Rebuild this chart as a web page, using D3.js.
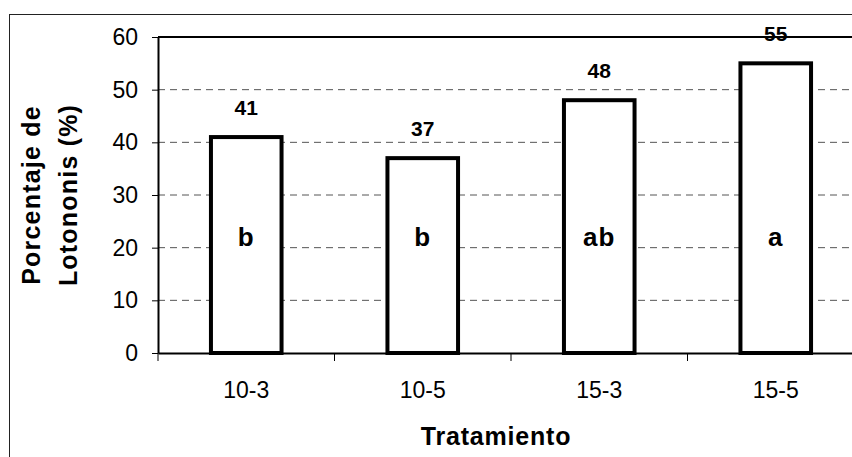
<!DOCTYPE html>
<html>
<head>
<meta charset="utf-8">
<script src="https://cdn.jsdelivr.net/npm/d3@7"></script>
<style>
  body { margin: 0; background: #fff; }
  svg { display: block; font-family: 'Liberation Sans', Arial, sans-serif; }
</style>
</head>
<body>
<svg></svg>
<script>
(function (d3) {
  'use strict'

  const categories = ['10-3', '10-5', '15-3', '15-5']
  const values = [41, 37, 48, 55]
  const letters = ['b', 'b', 'ab', 'a']
  const yTicks = [0, 10, 20, 30, 40, 50, 60]

  const width = 852
  const height = 457
  const plot = { left: 158, top: 37, bottom: 353, step: 176.5 }

  const svg = d3.select('svg').
    attr('width', width).
    attr('height', height)

  // outer chart frame, runs off the right and bottom edges
  svg.append('rect').
    attr('x', 9.5).
    attr('y', 14.5).
    attr('width', 1000).
    attr('height', 600).
    attr('fill', 'none').
    attr('stroke', '#222').
    attr('stroke-width', 1)

  const x = d3.scaleBand().
    domain(categories).
    range([plot.left, plot.left + plot.step * categories.length])

  const y = d3.scaleLinear().
    domain([0, 60]).
    range([plot.bottom, plot.top])

  // dashed gridlines
  svg.append('g').selectAll('line').data(yTicks.filter(d => d > 0 && d < 60)).
    enter().append('line').
    attr('x1', plot.left).
    attr('x2', x.range()[1]).
    attr('y1', d => y(d)).
    attr('y2', d => y(d)).
    attr('stroke', '#555').
    attr('stroke-width', 1).
    attr('stroke-dasharray', '7,5')

  // top border of plot area
  svg.append('line').
    attr('x1', plot.left).
    attr('x2', x.range()[1]).
    attr('y1', y(60)).
    attr('y2', y(60)).
    attr('stroke', '#000').
    attr('stroke-width', 2)

  // bars
  const barW = x.bandwidth() * 0.4
  svg.append('g').selectAll('rect').data(values).
    enter().append('rect').
    attr('x', (d, i) => x(categories[i]) + x.bandwidth() / 2 - barW / 2).
    attr('y', d => y(d)).
    attr('width', barW).
    attr('height', d => y(0) - y(d)).
    attr('fill', '#fff').
    attr('stroke', '#000').
    attr('stroke-width', 4)

  // y axis
  const yAxis = svg.append('g').
    attr('transform', `translate(${plot.left},0)`).
    call(d3.axisLeft(y).tickValues(yTicks).tickSize(6).tickSizeOuter(0).tickPadding(14))
  yAxis.select('.domain').attr('stroke-width', 2)
  yAxis.selectAll('.tick line').attr('stroke-width', 1)
  yAxis.selectAll('text').
    attr('font-size', 23).
    attr('font-family', 'Liberation Sans, Arial, sans-serif').
    attr('fill', '#000')

  // x axis: labels at band centres, ticks at band edges
  const xAxis = svg.append('g').
    attr('transform', `translate(0,${plot.bottom})`).
    call(d3.axisBottom(x).tickSize(0).tickSizeOuter(0))
  xAxis.select('.domain').attr('stroke-width', 2)
  xAxis.selectAll('text').
    attr('y', 0).
    attr('dy', 45).
    attr('font-size', 23).
    attr('font-family', 'Liberation Sans, Arial, sans-serif').
    attr('fill', '#000')

  const edges = categories.map(c => x(c))
  svg.append('g').selectAll('line').data(edges).
    enter().append('line').
    attr('x1', d => d).
    attr('x2', d => d).
    attr('y1', plot.bottom).
    attr('y2', plot.bottom + 8).
    attr('stroke', '#000').
    attr('stroke-width', 1)

  // value labels
  svg.append('g').selectAll('text').data(values).
    enter().append('text').
    attr('x', (d, i) => x(categories[i]) + x.bandwidth() / 2).
    attr('y', d => y(d) - 22).
    attr('text-anchor', 'middle').
    attr('font-size', 21).
    attr('font-weight', 'bold').
    text(d => d)

  // significance letters
  svg.append('g').selectAll('text').data(letters).
    enter().append('text').
    attr('x', (d, i) => x(categories[i]) + x.bandwidth() / 2).
    attr('y', 246).
    attr('text-anchor', 'middle').
    attr('font-size', 26).
    attr('font-weight', 'bold').
    attr('letter-spacing', 1).
    text(d => d)

  // axis titles
  svg.append('text').
    attr('x', 496).
    attr('y', 445).
    attr('text-anchor', 'middle').
    attr('font-size', 25).
    attr('font-weight', 'bold').
    attr('letter-spacing', 0.8).
    text('Tratamiento')

  const yTitle = svg.append('text').
    attr('transform', 'translate(0,195) rotate(-90)').
    attr('text-anchor', 'middle').
    attr('font-size', 25).
    attr('font-weight', 'bold').
    attr('letter-spacing', 1.2)
  yTitle.append('tspan').attr('x', 0).attr('y', 40).text('Porcentaje de')
  yTitle.append('tspan').attr('x', 0).attr('y', 77).text('Lotononis (%)')
}(d3))
</script>
</body>
</html>
